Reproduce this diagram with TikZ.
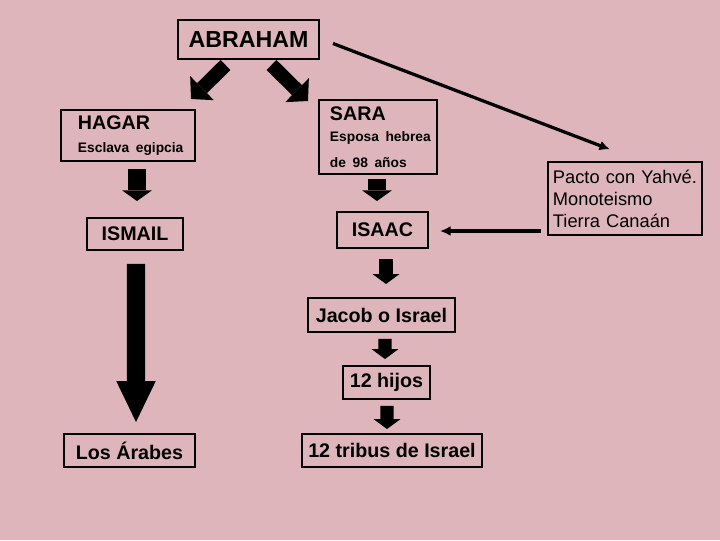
\documentclass[tikz,border=0pt]{standalone}
\usepackage{fontspec}
\setmainfont{Liberation Sans}
\usetikzlibrary{arrows.meta, positioning, calc}
\definecolor{rosebg}{RGB}{221,181,186}

\begin{document}
\begin{tikzpicture}[
    x=0.025cm, y=-0.025cm,
    box/.style={draw=black, line width=1.4pt, inner sep=0pt,
        font=\fontsize{14}{16}\selectfont\bfseries, text=black},
    fat/.style={line width=13pt, -{Triangle[width=21pt, length=7.5pt, line width=0pt]}},
    fatthin/.style={line width=9.5pt, -{Triangle[width=19pt, length=7pt, line width=0pt]}},
    fatdiag/.style={line width=10pt, -{Triangle[width=24pt, length=11pt, line width=0pt]}},
    fatlong/.style={line width=13pt, -{Triangle[width=28pt, length=29pt, line width=0pt]}},
    thin/.style={line width=2.3pt, -{Latex[length=7.5pt, width=7pt]}}
]

% background
\fill[rosebg] (0,0) rectangle (720,540);

% people
\node[box, minimum width=3.525cm, minimum height=0.975cm,
      font=\fontsize{16.5}{18}\selectfont\bfseries] (abraham) at (248.5,39.5) {ABRAHAM};

\node[box, minimum width=3.35cm, minimum height=1.275cm, inner xsep=0.425cm,
      text width=2.5cm, align=left] (hagar) at (128,135.5)
    {\mbox{HAGAR}\\[0pt]
     \mbox{\fontsize{9.8}{12}\selectfont Esclava egipcia}};

\node[box, minimum width=2.95cm, minimum height=1.85cm, inner xsep=0.275cm,
      text width=2.4cm, align=left] (sara) at (378,137)
    {\mbox{SARA}\\[-1pt]
     \mbox{\fontsize{9.8}{12}\selectfont Esposa hebrea}\\[2pt]
     \mbox{\fontsize{9.8}{12}\selectfont de 98 años}};

\node[box, minimum width=2.4cm, minimum height=0.8cm] (ismail) at (135,234) {ISMAIL\hspace{9pt}};
\node[box, minimum width=2.275cm, minimum height=0.9cm] (isaac) at (382.5,230) {ISAAC\hspace{12pt}};

\node[draw=black, line width=0.8pt, minimum width=3.85cm, minimum height=1.825cm,
      inner xsep=0.125cm, text width=3.6cm, align=left,
      font=\fontsize{13}{15.6}\selectfont] (pacto) at (625,198.5)
    {\mbox{Pacto con Yahvé.}\\\mbox{Monoteismo}\\\mbox{Tierra Canaán}};

% descendants
\node[box, minimum width=3.675cm, minimum height=0.85cm] (jacob) at (381.5,315) {Jacob o Israel};
\node[box, minimum width=2.175cm, minimum height=0.825cm] (hijos) at (386.5,382.5) {12 hijos};
\node[box, minimum width=3.275cm, minimum height=0.825cm] (arabes) at (129.5,450.5) {Los Árabes\hspace{4pt}};
\node[box, minimum width=4.5cm, minimum height=0.825cm] (tribus) at (392,450.5) {12 tribus de Israel};

% arrows
\draw[fatdiag] ($(abraham.south)+(-23,5)$) -- ($(hagar.north east)+(-5,-10)$);
\draw[fatdiag] ($(abraham.south)+(23,5)$) -- ($(sara.north west)+(-10,2)$);
\draw[thin] ($(abraham.east)+(13,4)$) -- ($(pacto.north)+(-15,-12)$);

\draw[fat] ($(hagar.south)+(9,7)$) -- ($(ismail.north)+(2,-16)$);
\draw[fatlong] ($(ismail.south)+(1,13)$) -- ($(arabes.north)+(6.5,-11)$);

\draw[fat] ($(sara.south)+(-1,4)$) -- ($(isaac.north)+(-5.5,-10)$);
\draw[thin] ($(isaac.east -| pacto.west)+(-6,1)$) -- ($(isaac.east)+(11,1)$);
\draw[fatthin] ($(isaac.south)+(3.5,10)$) -- ($(jacob.north)+(4.5,-13)$);
\draw[fatthin] ($(jacob.south)+(3.5,6)$) -- ($(hijos.north)+(-1.5,-6)$);
\draw[fatthin] ($(hijos.south)+(0.5,6)$) -- ($(tribus.north)+(-5,-4)$);

\end{tikzpicture}
\end{document}
